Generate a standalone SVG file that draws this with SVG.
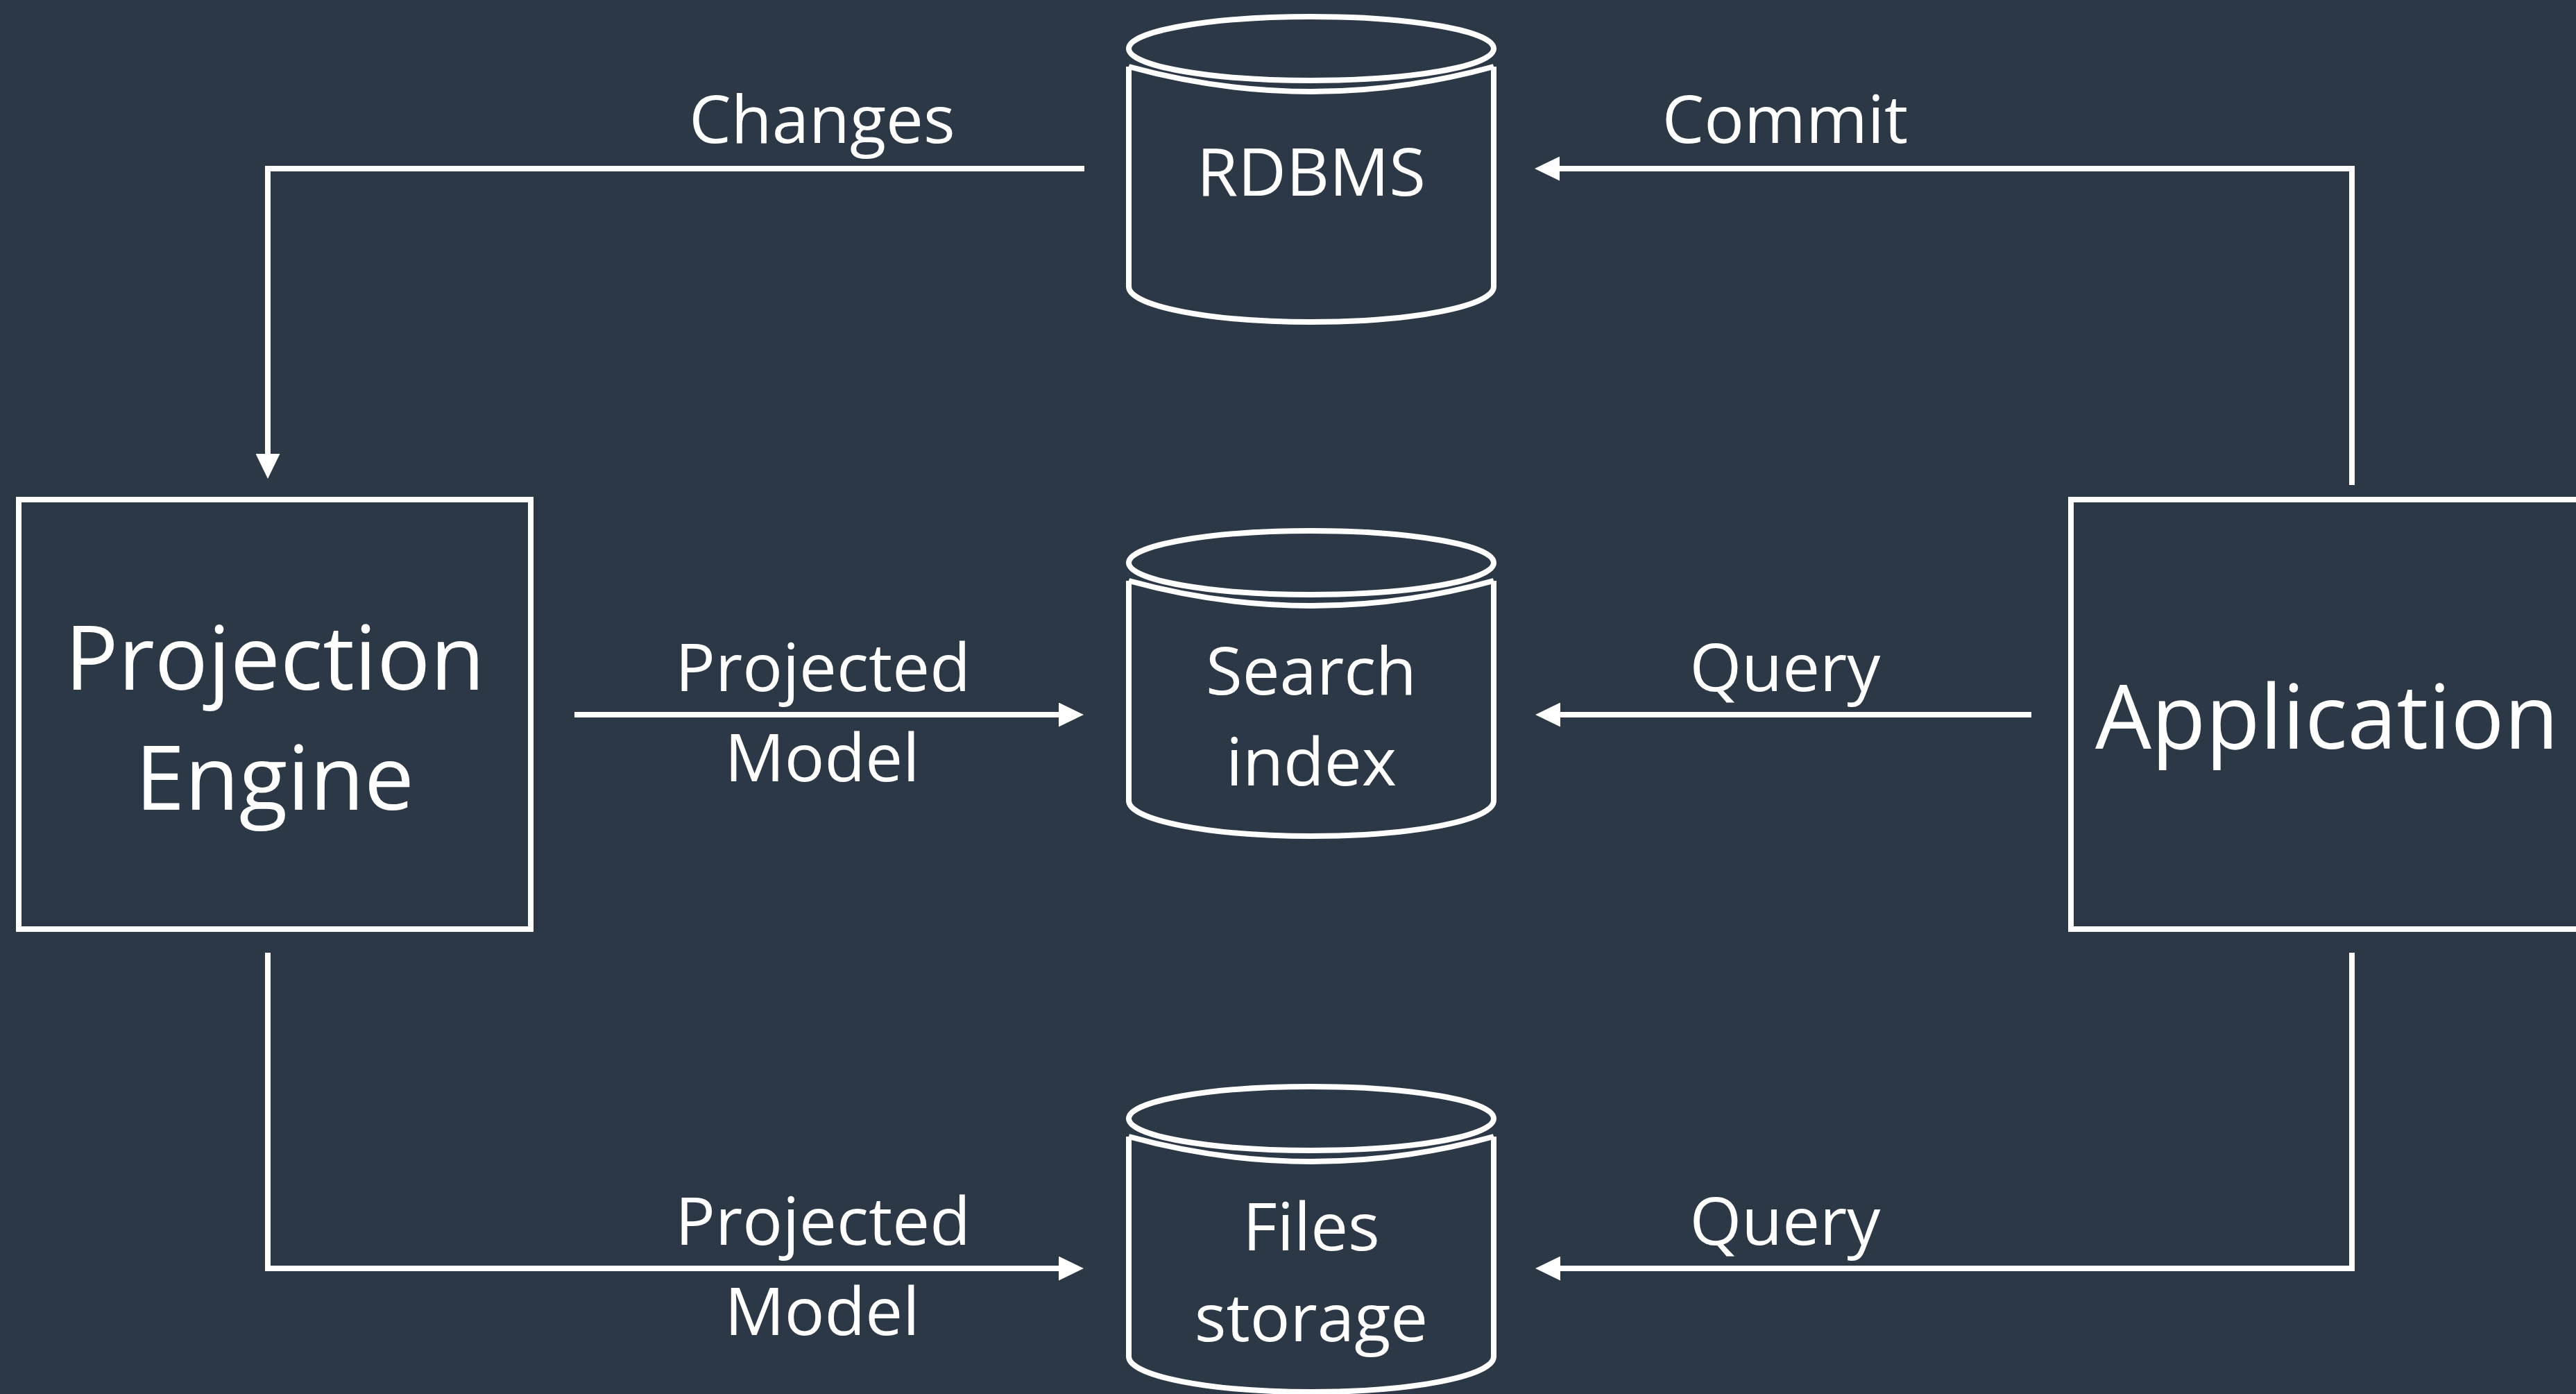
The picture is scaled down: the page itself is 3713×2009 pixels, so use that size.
<svg xmlns="http://www.w3.org/2000/svg" xmlns:xlink="http://www.w3.org/1999/xlink" width="3713" height="2009" viewBox="0 0 3713 2009">
  <style>
    .bg { fill: #2d3846; }
    .shape { fill: #2d3846; stroke: #ffffff; stroke-width: 8; }
    .wire { fill: none; stroke: #ffffff; stroke-width: 8; stroke-linejoin: miter; }
    text { font-family: "Open Sans", "Noto Sans", "DejaVu Sans", sans-serif; fill: #ffffff; text-anchor: middle; }
    .big { font-size: 128px; }
    .mid { font-size: 96px; }
    .lbl { font-size: 96px; }
  </style>
  <defs>
    <marker id="arrow" viewBox="0 0 36 35" refX="1" refY="17.5" markerWidth="36" markerHeight="35" markerUnits="userSpaceOnUse" orient="auto">
      <path d="M0,0 L36,17.5 L0,35 Z" fill="#ffffff"/>
    </marker>
    <!-- database cylinder: body, front rim, top ellipse -->
    <g id="cyl">
      <path class="shape" d="M1627,96 L1627,413 A263,51 0 0 0 2153,413 L2153,96"/>
      <path class="wire" d="M1627,96 Q1890,168 2153,96"/>
      <ellipse class="shape" cx="1890" cy="70" rx="263" ry="46"/>
    </g>
  </defs>

  <rect class="bg" x="0" y="0" width="3713" height="2009"/>

  <g id="connectors">
    <path class="wire" marker-end="url(#arrow)" d="M1563,243 H386 V655"/>
    <path class="wire" marker-end="url(#arrow)" d="M3390,699 V243 H2247"/>
    <path class="wire" marker-end="url(#arrow)" d="M828,1030 H1527"/>
    <path class="wire" marker-end="url(#arrow)" d="M2928,1030 H2248"/>
    <path class="wire" marker-end="url(#arrow)" d="M386,1373 V1828 H1527"/>
    <path class="wire" marker-end="url(#arrow)" d="M3390,1373 V1828 H2248"/>
    <text class="lbl" x="1185" y="206">Changes</text>
    <text class="lbl" x="2573" y="206">Commit</text>
    <text class="lbl" x="1186" y="996">Projected</text>
    <text class="lbl" x="1185" y="1126">Model</text>
    <text class="lbl" x="2573" y="996">Query</text>
    <text class="lbl" x="1186" y="1794">Projected</text>
    <text class="lbl" x="1185" y="1924">Model</text>
    <text class="lbl" x="2573" y="1794">Query</text>
  </g>

  <g id="projection-engine">
    <rect class="shape" x="27" y="720" width="738" height="619"/>
    <text class="big" x="396" y="994">Projection</text>
    <text class="big" x="396" y="1167">Engine</text>
  </g>

  <g id="application">
    <rect class="shape" x="2985" y="720" width="738" height="619"/>
    <text class="big" x="3354" y="1079">Application</text>
  </g>

  <g id="rdbms">
    <use xlink:href="#cyl"/>
    <text class="mid" x="1890" y="282">RDBMS</text>
  </g>

  <g id="search-index">
    <use xlink:href="#cyl" transform="translate(0,741)"/>
    <text class="mid" x="1890" y="1001">Search</text>
    <text class="mid" x="1890" y="1132">index</text>
  </g>

  <g id="files-storage">
    <use xlink:href="#cyl" transform="translate(0,1542)"/>
    <text class="mid" x="1890" y="1802">Files</text>
    <text class="mid" x="1890" y="1933">storage</text>
  </g>
</svg>
